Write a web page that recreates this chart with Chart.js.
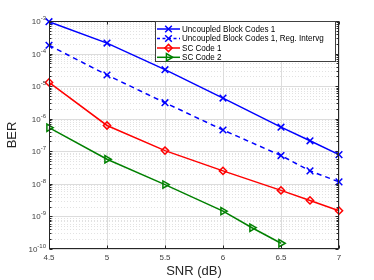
<!DOCTYPE html>
<html>
<head>
<meta charset="utf-8">
<script src="https://cdn.jsdelivr.net/npm/chart.js@4.4.1/dist/chart.umd.min.js"></script>
<style>
  html, body { margin: 0; padding: 0; background: #fff; }
  #box { width: 374px; height: 280px; }
</style>
</head>
<body>
<div id="box"><canvas id="grafica"></canvas></div>
<script>
// datos
const snr = [4.5, 5, 5.5, 6, 6.5, 6.75, 7];
const snrSC2 = [4.5, 5, 5.5, 6, 6.25, 6.5];
const uncoupled1 = [9.5e-4, 2.1e-4, 3.2e-5, 4.3e-6, 5.5e-7, 2.1e-7, 7.9e-8];
const uncoupledReg = [1.8e-4, 2.2e-5, 3.1e-6, 4.5e-7, 7.4e-8, 2.5e-8, 1.15e-8];
const scCode1 = [1.3e-5, 6.2e-7, 1.05e-7, 2.5e-8, 6.3e-9, 3.1e-9, 1.5e-9];
const scCode2 = [5.3e-7, 5.7e-8, 9.5e-9, 1.45e-9, 4.5e-10, 1.5e-10];

const xTicks = [4.5, 5, 5.5, 6, 6.5, 7];
const yExps = [-3, -4, -5, -6, -7, -8, -9, -10];

const nombres = ["Uncoupled Block Codes 1", "Uncoupled Block Codes 1, Reg. Intervg", "SC Code 1", "SC Code 2"];

function puntos(xs, ys) {
    return xs.map((x, i) => ({ x: x, y: ys[i] }));
}

const FONT = "'Liberation Sans', Arial, Helvetica, sans-serif";

const series = [
    { label: nombres[0], data: puntos(snr, uncoupled1), color: "#0000ff", dash: [], style: "crossRot", radius: 4.7, rot: 0 },
    { label: nombres[1], data: puntos(snr, uncoupledReg), color: "#0000ff", dash: [5, 4], style: "crossRot", radius: 4.7, rot: 0 },
    { label: nombres[2], data: puntos(snr, scCode1), color: "#ff0000", dash: [], style: "rectRot", radius: 3.6, rot: 0 },
    { label: nombres[3], data: puntos(snrSC2, scCode2), color: "#008000", dash: [], style: "triangle", radius: 4.2, rot: 90 }
];

const ejes = {
    id: "ejes",
    beforeDatasetsDraw(chart) {
        const ctx = chart.ctx;
        const a = chart.chartArea;
        const xs = chart.scales.x, ys = chart.scales.y;
        ctx.save();
        // rejilla menor
        ctx.strokeStyle = "#e2e2e2";
        ctx.lineWidth = 1;
        ctx.setLineDash([1, 2]);
        yExps.forEach(e => {
            if (e === -3) return;
            for (let m = 2; m <= 9; m++) {
                const y = Math.round(ys.getPixelForValue(m * Math.pow(10, e))) + 0.5;
                ctx.beginPath(); ctx.moveTo(a.left, y); ctx.lineTo(a.right, y); ctx.stroke();
            }
        });
        // rejilla mayor
        ctx.setLineDash([]);
        ctx.strokeStyle = "#dcdcdc";
        yExps.forEach(e => {
            const y = Math.round(ys.getPixelForValue(Math.pow(10, e))) + 0.5;
            ctx.beginPath(); ctx.moveTo(a.left, y); ctx.lineTo(a.right, y); ctx.stroke();
        });
        xTicks.forEach(v => {
            const x = Math.round(xs.getPixelForValue(v)) + 0.5;
            ctx.beginPath(); ctx.moveTo(x, a.top); ctx.lineTo(x, a.bottom); ctx.stroke();
        });
        ctx.restore();
    },
    afterDatasetsDraw(chart) {
        const ctx = chart.ctx;
        const a = chart.chartArea;
        const xs = chart.scales.x, ys = chart.scales.y;
        ctx.save();
        ctx.strokeStyle = "#262626";
        ctx.lineWidth = 1;
        const L = Math.round(a.left) + 0.5, R = Math.round(a.right) - 0.5;
        const T = Math.round(a.top) + 0.5, B = Math.round(a.bottom) - 0.5;
        ctx.strokeRect(L, T, R - L, B - T);
        // marcas
        ctx.beginPath();
        xTicks.forEach(v => {
            const x = Math.round(xs.getPixelForValue(v)) + 0.5;
            ctx.moveTo(x, B); ctx.lineTo(x, B - 3);
            ctx.moveTo(x, T); ctx.lineTo(x, T + 3);
        });
        yExps.forEach(e => {
            const y = Math.round(ys.getPixelForValue(Math.pow(10, e))) + 0.5;
            ctx.moveTo(L, y); ctx.lineTo(L + 3, y);
            ctx.moveTo(R, y); ctx.lineTo(R - 3, y);
            if (e === -3) return;
            for (let m = 2; m <= 9; m++) {
                const ym = Math.round(ys.getPixelForValue(m * Math.pow(10, e))) + 0.5;
                ctx.moveTo(L, ym); ctx.lineTo(L + 2, ym);
                ctx.moveTo(R, ym); ctx.lineTo(R - 2, ym);
            }
        });
        ctx.stroke();

        // etiquetas de los ejes
        ctx.fillStyle = "#404040";
        ctx.font = "8px " + FONT;
        ctx.textAlign = "center";
        ctx.textBaseline = "top";
        xTicks.forEach(v => {
            ctx.fillText(String(v), xs.getPixelForValue(v), a.bottom + 5);
        });
        yExps.forEach(e => {
            const y = ys.getPixelForValue(Math.pow(10, e));
            ctx.font = "6px " + FONT;
            const ex = String(e);
            const wE = ctx.measureText(ex).width;
            ctx.textAlign = "left";
            ctx.textBaseline = "alphabetic";
            const xE = a.left - 3 - wE;
            ctx.fillText(ex, xE, y - 1);
            ctx.font = "8px " + FONT;
            ctx.textAlign = "right";
            ctx.fillText("10", xE, y + 3);
        });
        ctx.fillStyle = "#262626";
        ctx.font = "13px " + FONT;
        ctx.textAlign = "center";
        ctx.textBaseline = "middle";
        ctx.fillText("SNR (dB)", (a.left + a.right) / 2, 271);
        ctx.save();
        ctx.translate(12, (a.top + a.bottom) / 2);
        ctx.rotate(-Math.PI / 2);
        ctx.fillText("BER", 0, 0);
        ctx.restore();

        // leyenda
        const lx = 155.5, ly = 21.5, lw = 180, lh = 40;
        ctx.fillStyle = "#ffffff";
        ctx.fillRect(lx, ly, lw, lh);
        ctx.strokeStyle = "#404040";
        ctx.lineWidth = 1;
        ctx.strokeRect(lx, ly, lw, lh);
        const filas = [29, 38.5, 48, 57.3];
        series.forEach((s, i) => {
            const y = filas[i];
            ctx.strokeStyle = s.color;
            ctx.lineWidth = 1.5;
            ctx.setLineDash(s.dash.length ? [3, 2.5] : []);
            ctx.beginPath(); ctx.moveTo(157, y); ctx.lineTo(180, y); ctx.stroke();
            ctx.setLineDash([]);
            ctx.fillStyle = "rgba(0,0,0,0)";
            Chart.helpers.drawPoint(ctx, {
                pointStyle: s.style, radius: s.radius, rotation: s.rot, borderWidth: 1.5
            }, 168.5, y);
            ctx.fillStyle = "#000000";
            ctx.font = "9px " + FONT;
            ctx.textAlign = "left";
            ctx.textBaseline = "middle";
            // el texto de la referencia es algo mas estrecho
            ctx.save();
            ctx.translate(182, y + 0.5);
            ctx.scale(0.9, 1);
            ctx.fillText(s.label, 0, 0);
            ctx.restore();
        });
        ctx.restore();
    }
};

const ctx = document.getElementById("grafica").getContext("2d");
new Chart(ctx, {
    type: "line",
    data: {
        datasets: series.map(s => ({
            label: s.label,
            data: s.data,
            borderColor: s.color,
            backgroundColor: "rgba(0,0,0,0)",
            borderWidth: 1.5,
            borderDash: s.dash,
            pointStyle: s.style,
            pointRadius: s.radius,
            pointRotation: s.rot,
            pointBorderColor: s.color,
            pointBackgroundColor: "rgba(0,0,0,0)",
            pointBorderWidth: 1.5,
            tension: 0,
            fill: false,
            clip: false
        }))
    },
    options: {
        responsive: true,
        maintainAspectRatio: false,
        animation: false,
        layout: { padding: { left: 49, right: 35, top: 21, bottom: 31 } },
        plugins: {
            legend: { display: false },
            tooltip: { enabled: false }
        },
        scales: {
            x: { type: "linear", min: 4.5, max: 7, display: false },
            y: { type: "logarithmic", min: 1e-10, max: 1e-3, display: false }
        }
    },
    plugins: [ejes]
});
</script>
</body>
</html>
